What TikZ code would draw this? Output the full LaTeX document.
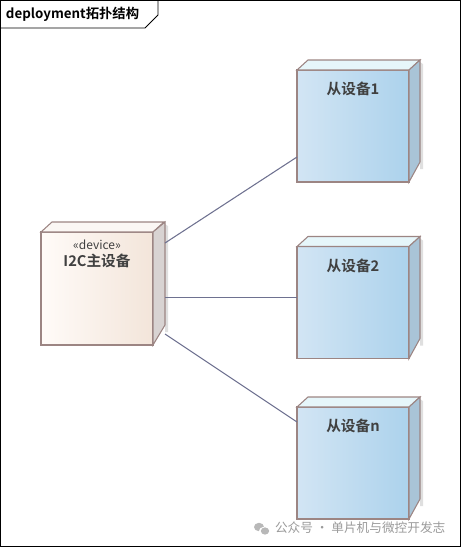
\documentclass[tikz,border=0pt]{standalone}
\usepackage{fontspec}
\setmainfont{Noto Sans CJK SC}[BoldFont={Noto Sans CJK SC Bold}]
\usepackage{tikz}
\usetikzlibrary{positioning,calc}

\definecolor{boxline}{HTML}{9C8583}
\definecolor{linkcol}{HTML}{6E7190}
\definecolor{devleft}{HTML}{FFFBF8}
\definecolor{devright}{HTML}{F3E5DA}
\definecolor{devside}{HTML}{D8D3D2}
\definecolor{slvleft}{HTML}{D2E5F4}
\definecolor{slvright}{HTML}{ACD2EC}
\definecolor{slvtop}{HTML}{E6F6FA}
\definecolor{slvside}{HTML}{A9C4D7}
\definecolor{markgray}{HTML}{9A9A9A}

\begin{document}
\begin{tikzpicture}[x=0.75pt,y=-0.75pt,
  every node/.style={inner sep=0pt,outer sep=0pt},
  devbox/.style={rectangle,draw=boxline,line width=0.8pt,left color=devleft,right color=devright,minimum width=84pt,minimum height=84.75pt},
  slavebox/.style={rectangle,draw=boxline,line width=0.8pt,left color=slvleft,right color=slvright,minimum width=84pt,minimum height=84pt},
  link/.style={draw=linkcol,line width=0.8pt}]
  \useasboundingbox (0,0) rectangle (461,547);
  \draw[line width=0.8pt] (0.5,0.5) rectangle (460.5,546.5);
  % title tab
  \draw[line width=0.6pt] (0.5,28) -- (145,28) -- (158,15) -- (158,0.5);
  \node[anchor=west,font=\fontsize{10}{12}\selectfont\bfseries] (title) at (6,14) {deployment拓扑结构};

  % master device
  \node[devbox] (M) at (97,288.5) {};
  \fill[white!70!devright,draw=boxline,line width=0.8pt] (M.north west) -- ++(11,-10) -- ++(112,0) -- (M.north east) -- cycle;
  \fill[gray!25] ($(M.north east)+(12,-8)$) -- ++(3,2) -- ++(0,106) -- ++(-3,0) -- cycle;
  \fill[devside,draw=boxline,line width=0.8pt] (M.north east) -- ++(12,-10) -- ++(0,103) -- (M.south east) -- cycle;
  \node[font=\fontsize{9}{11}\selectfont,text=black!75,below=6pt] (Mstereo) at (M.north) {«device»};
  \node[font=\fontsize{11}{13}\selectfont\bfseries,text=black!75,below=3pt of Mstereo] (Mname) {I2C主设备};

  % slave devices
  \foreach \n/\y/\t in {S1/126/从设备1,S2/302.5/从设备2,Sn/463/从设备n}{
    \node[slavebox] (\n) at (353,\y) {};
    \fill[slvtop,draw=boxline,line width=0.8pt] (\n.north west) -- ++(11,-10) -- ++(112,0) -- (\n.north east) -- cycle;
    \fill[gray!25] ($(\n.north east)+(11,-8)$) -- ++(3,2) -- ++(0,105) -- ++(-3,0) -- cycle;
    \fill[slvside,draw=boxline,line width=0.8pt] (\n.north east) -- ++(11,-10) -- ++(0,102) -- (\n.south east) -- cycle;
    \node[font=\fontsize{11}{13}\selectfont\bfseries,text=black!75,below=9pt] (\n name) at (\n.north) {\t};
  }

  % connectors
  \draw[link] ([xshift=9pt,yshift=-8.25pt]M.north east) -- ([yshift=-23.25pt]S1.west);
  \draw[link] ([xshift=9pt,yshift=-6.4pt]M.east) -- ([yshift=4.1pt]S2.west);
  \draw[link] ([xshift=9pt,yshift=8.25pt]M.south east) -- ([yshift=30.75pt]Sn.west);

  % watermark
  \fill[markgray!70] (259,527) ellipse (5 and 4.2);
  \fill[white] (264,531) ellipse (5 and 4.2);
  \fill[markgray!70] (265,531) ellipse (4.2 and 3.6);
  \node[anchor=west,font=\fontsize{9.5}{11}\selectfont,text=markgray] (mark) at (275,528) {公众号 · 单片机与微控开发志};
\end{tikzpicture}
\end{document}
